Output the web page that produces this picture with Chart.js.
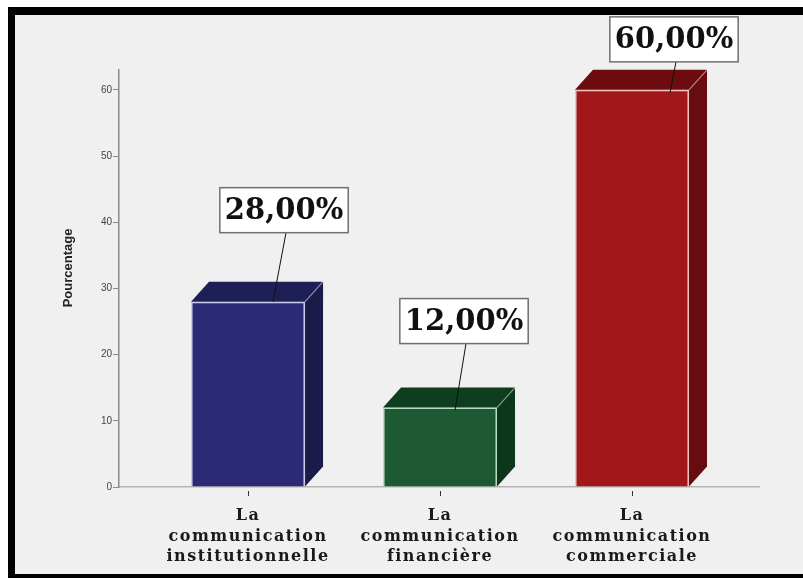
<!DOCTYPE html>
<html>
<head>
<meta charset="utf-8">
<script src="https://cdn.jsdelivr.net/npm/chart.js@4/dist/chart.umd.min.js"></script>
<style>
  html, body { margin: 0; padding: 0; background: #ffffff; }
  canvas { display: block; }
</style>
</head>
<body>
<canvas id="chart" width="803" height="578"></canvas>
<script>
// Categories (each label broken into its display lines)
const categories = [
  ['La', 'communication', 'institutionnelle'],
  ['La', 'communication', 'financière'],
  ['La', 'communication', 'commerciale']
];
// Share of each type of communication, in percent
const percentages = [28, 12, 60];
// Labelled ticks on the vertical axis
const yTicks = [0, 10, 20, 30, 40, 50, 60];
const yTitle = 'Pourcentage';

// Face colours of the extruded bars
const frontColors = ['#2a2b74', '#1d5a33', '#a1171a'];
const topColors   = ['#1f1f57', '#0f3d1f', '#6c0c0f'];
const sideColors  = ['#1b1b49', '#0c371b', '#670c0f'];
const edgeColors  = ['#c9c9ea', '#b6dcc4', '#f2c2bd'];

// Placement of each value box relative to its bar: [shift of box centre, gap above bar top, leader end x-shift, leader end y-shift]
const calloutPlacement = [
  [36, 69, 25, 0],
  [24, 64, 15, 3],
  [42, 28, 38, 3]
];

const fmtPct = v => v.toFixed(2).replace('.', ',') + '%';

const framePlugin = {
  id: 'frame',
  beforeDraw(chart) {
    const ctx = chart.ctx;
    ctx.save();
    ctx.fillStyle = '#ffffff';
    ctx.fillRect(0, 0, chart.width, chart.height);
    ctx.fillStyle = '#000000';
    ctx.fillRect(8, 7, chart.width - 8, chart.height - 7);
    ctx.fillStyle = '#f0f0f0';
    ctx.fillRect(15, 15, chart.width - 15, 574 - 15);
    ctx.restore();
  }
};

const bars3dPlugin = {
  id: 'bars3d',
  afterDatasetsDraw(chart) {
    const ctx = chart.ctx;
    const meta = chart.getDatasetMeta(0);
    const dx = 18, dy = 20;
    const xScale = chart.scales.x;

    // top and side faces
    meta.data.forEach((bar, i) => {
      const { x, y, base, width } = bar.getProps(['x', 'y', 'base', 'width'], true);
      const l = x - width / 2, r = x + width / 2;
      ctx.save();
      ctx.fillStyle = topColors[i];
      ctx.beginPath();
      ctx.moveTo(l, y);
      ctx.lineTo(l + dx, y - dy);
      ctx.lineTo(r + dx, y - dy);
      ctx.lineTo(r, y);
      ctx.closePath();
      ctx.fill();

      ctx.fillStyle = sideColors[i];
      ctx.beginPath();
      ctx.moveTo(r, y);
      ctx.lineTo(r + dx, y - dy);
      ctx.lineTo(r + dx, base - dy);
      ctx.lineTo(r, base);
      ctx.closePath();
      ctx.fill();

      ctx.strokeStyle = edgeColors[i];
      ctx.globalAlpha = 0.55;
      ctx.lineWidth = 1.2;
      ctx.beginPath();
      ctx.moveTo(r, y);
      ctx.lineTo(r + dx, y - dy);
      ctx.stroke();
      ctx.restore();
    });

    // category tick marks and labels
    ctx.save();
    ctx.strokeStyle = '#333333';
    ctx.lineWidth = 1;
    ctx.fillStyle = '#1a1a1a';
    ctx.font = 'bold 16px "DejaVu Serif"';
    ctx.letterSpacing = '1.5px';
    ctx.textAlign = 'center';
    ctx.textBaseline = 'middle';
    const lineY = [516, 537, 557];
    categories.forEach((lines, i) => {
      const cx = xScale.getPixelForValue(i);
      ctx.beginPath();
      ctx.moveTo(cx + 0.5, 491);
      ctx.lineTo(cx + 0.5, 496);
      ctx.stroke();
      lines.forEach((t, k) => ctx.fillText(t, cx, lineY[k]));
    });
    ctx.restore();

    // value call-outs
    meta.data.forEach((bar, i) => {
      const { x, y } = bar.getProps(['x', 'y'], true);
      const [shift, gap, endDx, endDy] = calloutPlacement[i];
      const text = fmtPct(percentages[i]);
      ctx.save();
      ctx.font = 'bold 29px "DejaVu Serif"';
      const tw = ctx.measureText(text).width;
      const bw = tw + 10, bh = 45;
      const bcx = x + shift;
      const bottom = y - gap;
      const bl = bcx - bw / 2, bt = bottom - bh;

      ctx.strokeStyle = '#111111';
      ctx.lineWidth = 1;
      ctx.beginPath();
      ctx.moveTo(bcx + 2, bottom);
      ctx.lineTo(x + endDx, y + endDy);
      ctx.stroke();

      ctx.fillStyle = '#ffffff';
      ctx.fillRect(bl, bt, bw, bh);
      ctx.strokeStyle = '#6f6f6f';
      ctx.lineWidth = 1.5;
      ctx.strokeRect(bl, bt, bw, bh);

      ctx.fillStyle = '#111111';
      ctx.textAlign = 'center';
      ctx.textBaseline = 'middle';
      ctx.fillText(text, bcx, bt + bh / 2 + 1);
      ctx.restore();
    });

    // vertical axis title
    ctx.save();
    ctx.translate(68, 268);
    ctx.rotate(-Math.PI / 2);
    ctx.font = 'bold 13px "Liberation Sans"';
    ctx.fillStyle = '#222222';
    ctx.textAlign = 'center';
    ctx.textBaseline = 'middle';
    ctx.fillText(yTitle, 0, 0);
    ctx.restore();
  }
};

new Chart(document.getElementById('chart'), {
  type: 'bar',
  data: {
    datasets: [{
      data: percentages.map((v, i) => ({ x: i, y: v })),
      backgroundColor: frontColors,
      borderColor: edgeColors,
      borderWidth: 1.5,
      barPercentage: 0.594,
      categoryPercentage: 1
    }]
  },
  options: {
    responsive: false,
    devicePixelRatio: 1,
    animation: false,
    layout: { padding: { left: 15, top: 70, right: 44, bottom: 0 } },
    plugins: { legend: { display: false }, tooltip: { enabled: false } },
    scales: {
      x: {
        type: 'linear',
        offset: false,
        min: -0.672,
        max: 2.6615,
        afterBuildTicks(scale) { scale.ticks = categories.map((c, i) => ({ value: i })); },
        ticks: { display: false },
        grid: { display: false, offset: false },
        border: { display: true, color: '#b4b4b4', width: 1.5 },
        afterFit(scale) { scale.height = 91; }
      },
      y: {
        min: 0,
        max: 63,
        afterBuildTicks(scale) { scale.ticks = yTicks.map(v => ({ value: v })); },
        ticks: {
          color: '#444444',
          font: { family: 'Liberation Sans', size: 10 },
          padding: 1
        },
        grid: { drawOnChartArea: false, drawTicks: true, tickLength: 6, color: '#888888', lineWidth: 1 },
        border: { display: true, color: '#8a8a8a', width: 1.5 },
        afterFit(scale) { scale.width = 104; }
      }
    }
  },
  plugins: [framePlugin, bars3dPlugin]
});
</script>
</body>
</html>
